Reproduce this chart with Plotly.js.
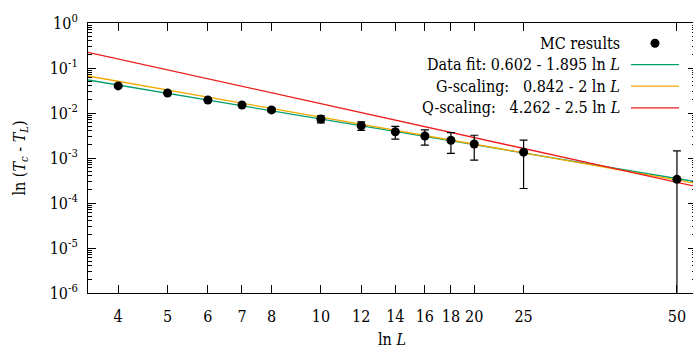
<!DOCTYPE html>
<html><head><meta charset="utf-8">
<script src="https://cdn.plot.ly/plotly-3.0.1.min.js"></script>
<style>html,body{margin:0;padding:0;overflow:hidden;background:#fff}</style>
</head><body><div id="chart"></div>
<script>
// Monte Carlo data
const L = [4, 5, 6, 7, 8, 10, 12, 14, 16, 18, 20, 25, 50];
const dT = [0.0400, 0.0278, 0.0195, 0.0151, 0.0117, 0.00736, 0.00522, 0.00384, 0.00308, 0.00247, 0.00205, 0.00135, 0.000336];
const dTerr = [0.0010, 0.0010, 0.0010, 0.0010, 0.0011, 0.0013, 0.0011, 0.0012, 0.00115, 0.0012, 0.00115, 0.00114, 0.0011];
// fitted lines (straight on log-log), end points
const lineL = [3.49, 54.5];
const fitData = [0.05408, 0.0002965];
const fitG = [0.06637, 0.0002729];
const fitQ = [0.2234, 0.0002323];
// tick labels
const xTicks = [4, 5, 6, 7, 8, 10, 12, 14, 16, 18, 20, 25, 50];
const yTicks = [1, 0.1, 0.01, 0.001, 0.0001, 0.00001, 0.000001];
const yTickText = ['10<sup>0</sup>', '10<sup>-1</sup>', '10<sup>-2</sup>', '10<sup>-3</sup>', '10<sup>-4</sup>', '10<sup>-5</sup>', '10<sup>-6</sup>'];
const legendLabels = ['MC results', 'Data fit: 0.602 - 1.895 ln <i>L</i>', 'G-scaling:\u00a0\u00a0 0.842 - 2 ln <i>L</i>', 'Q-scaling:\u00a0\u00a0 4.262 - 2.5 ln <i>L</i>'];

const FONT = '"DejaVu Serif Condensed", "DejaVu Serif", "Liberation Serif", serif';
const colors = {data: '#009e73', g: '#f2a900', q: '#ee1c1c'};

const traces = [
  {x: lineL, y: fitData, mode: 'lines', line: {color: colors.data, width: 1.3}, hoverinfo: 'skip'},
  {x: lineL, y: fitG, mode: 'lines', line: {color: colors.g, width: 1.3}, hoverinfo: 'skip'},
  {x: lineL, y: fitQ, mode: 'lines', line: {color: colors.q, width: 1.3}, hoverinfo: 'skip'},
  {x: L, y: dT, mode: 'markers', marker: {color: 'black', size: 9},
   error_y: {type: 'data', array: dTerr, visible: true, color: 'black', thickness: 1.2, width: 4}}
];

const W = 696, H = 356, ml = 88, mr = 0, mt = 23, mb = 63;
const pw = W - ml - mr, ph = H - mt - mb;
const px = v => (v - ml) / pw;
const py = v => 1 - (v - mt) / ph;

const rowsY = [43.3, 64.6, 86.2, 107.8];
const annotations = legendLabels.map((t, i) => ({
  xref: 'paper', yref: 'paper', x: px(622), y: py(rowsY[i]), xanchor: 'right', yanchor: 'middle',
  text: t, showarrow: false, font: {family: FONT, size: 16, color: 'black'}
}));
const sampleColors = [null, colors.data, colors.g, colors.q];
const shapes = [];
sampleColors.forEach((c, i) => {
  if (c) shapes.push({type: 'line', xref: 'paper', yref: 'paper', x0: px(631), x1: px(679), y0: py(rowsY[i]), y1: py(rowsY[i]), line: {color: c, width: 1.3}});
});
shapes.push({type: 'circle', xref: 'paper', yref: 'paper', x0: px(650.5), x1: px(659.5), y0: py(rowsY[0] - 4.5), y1: py(rowsY[0] + 4.5), fillcolor: 'black', line: {width: 0}});

const layout = {
  width: W, height: H, margin: {l: ml, r: mr, t: mt, b: mb},
  paper_bgcolor: 'white', plot_bgcolor: 'white', showlegend: false,
  font: {family: FONT, size: 16, color: 'black'},
  xaxis: {type: 'log', range: [Math.log10(3.49), Math.log10(54.5)], tickvals: xTicks, ticktext: xTicks.map(String),
    ticks: 'inside', ticklen: 8, tickcolor: 'black', showline: true, linecolor: 'black', linewidth: 1, mirror: 'allticks',
    showgrid: false, zeroline: false, ticklabelstandoff: 9,
    title: {text: 'ln <i>L</i>', font: {family: FONT, size: 16}, standoff: 8}},
  yaxis: {type: 'log', range: [-6, 0], tickvals: yTicks, ticktext: yTickText,
    ticks: 'inside', ticklen: 8, tickcolor: 'black', showline: true, linecolor: 'black', linewidth: 1, mirror: 'allticks',
    showgrid: false, zeroline: false, ticklabelstandoff: 6,
    minor: {ticks: 'inside', ticklen: 4, tickcolor: 'black', showgrid: false, dtick: 'D1'},
    title: {text: 'ln (<i>T</i><sub><i>c</i></sub> - <i>T</i><sub><i>L</i></sub>)', font: {family: FONT, size: 16}, standoff: 20}},
  annotations: annotations, shapes: shapes
};
Plotly.newPlot('chart', traces, layout, {displayModeBar: false, staticPlot: true});
</script></body></html>
